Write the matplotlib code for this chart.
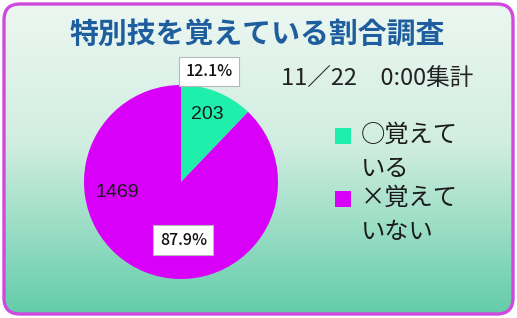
import numpy as np
import matplotlib
matplotlib.use("Agg")
import matplotlib.pyplot as plt
from matplotlib.patches import FancyBboxPatch, Rectangle
from matplotlib.colors import LinearSegmentedColormap

plt.rcParams['font.family'] = ['Noto Sans CJK JP', 'DejaVu Sans']

# ---- data ----
title = "特別技を覚えている割合調査"
subtitle = "11／22　0:00集計"
categories = ["○覚えて\nいる", "×覚えて\nいない"]
counts = [203, 1469]
colors = ["#1EF0AC", "#D800F8"]

W, H = 517, 318
fig = plt.figure(figsize=(W / 100, H / 100), dpi=100)

def fx(x):
    return x / W

def fy(y):
    return 1 - y / H

# ---- background with gradient and rounded border ----
bg = fig.add_axes([0, 0, 1, 1])
bg.set_xlim(0, W)
bg.set_ylim(H, 0)
bg.axis('off')
cmap = LinearSegmentedColormap.from_list(
    "bgg", [(0.0, (0.93, 0.97, 0.95)), (0.45, (0.82, 0.93, 0.88)), (1.0, (0.38, 0.80, 0.66))])
grad = np.linspace(0, 1, 256).reshape(-1, 1)
im = bg.imshow(grad, cmap=cmap, aspect='auto', extent=(0, W, H, 0), zorder=0)
frame = FancyBboxPatch((4, 4), W - 8, H - 8, boxstyle="round,pad=0,rounding_size=16",
                       facecolor='none', edgecolor='#D048E0', linewidth=2.4, zorder=2)
bg.add_patch(frame)
im.set_clip_path(frame)

bg.text(257, 34, title, ha='center', va='center', fontsize=20.8, fontweight='bold',
        color='#1F5E9E')
bg.text(377, 79, subtitle, ha='center', va='center', fontsize=17, color='#222222')

# ---- pie ----
cx, cy, r = 181, 182, 97
ax = fig.add_axes([fx(cx - r), fy(cy + r), 2 * r / W, 2 * r / H])
wedges, _ = ax.pie(counts, colors=colors, startangle=90, counterclock=False,
                   radius=1, wedgeprops=dict(edgecolor='none'))
ax.set_xlim(-1, 1)
ax.set_ylim(-1, 1)
ax.set_aspect('equal')
ax.axis('off')

total = sum(counts)
pcts = [c / total * 100 for c in counts]
count_pos = [(0.27, 0.70), (-0.66, -0.11)]
pct_pos = [(0.29, 1.14), (0.025, -0.60)]
for c, p, cp, pp in zip(counts, pcts, count_pos, pct_pos):
    ax.text(cp[0], cp[1], f"{c}", ha='center', va='center', fontsize=14,
            family=['Liberation Sans'], color='#1A1A1A', clip_on=False)
    ax.text(pp[0], pp[1], f"{p:.1f}%", ha='center', va='center', fontsize=11.5,
            fontweight='medium', color='#111111', clip_on=False,
            bbox=dict(boxstyle='square,pad=0.4', facecolor='white',
                      edgecolor='#B8B8B8', linewidth=0.8))

# ---- legend ----
leg_y = [136, 199]
for lab, col, y in zip(categories, colors, leg_y):
    bg.add_patch(Rectangle((335, y - 8), 16, 16, facecolor=col, edgecolor='none', zorder=3))
    bg.text(361, y - 14, lab, ha='left', va='top', fontsize=17.5, color='#1A1A1A',
            linespacing=1.38)

fig.savefig("out.png", dpi=100)
